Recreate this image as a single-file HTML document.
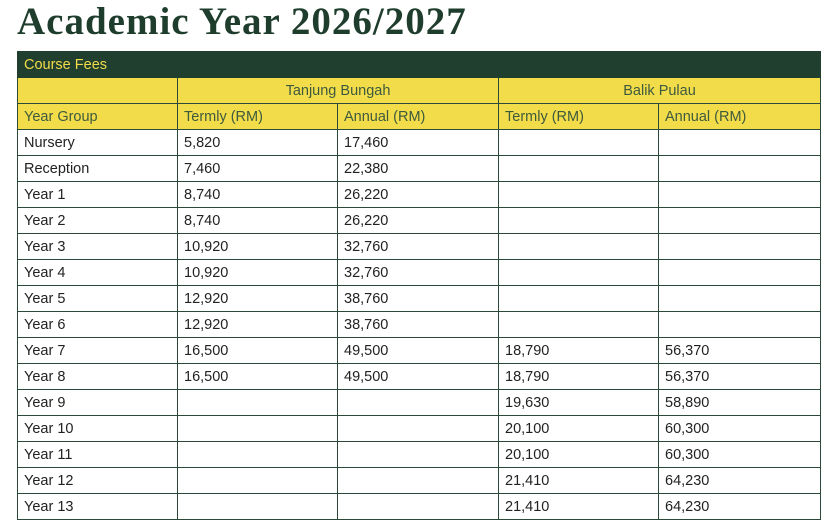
<!DOCTYPE html>
<html><head><style>
body{margin:0;background:#fff;width:835px;height:528px;overflow:hidden;font-family:"Liberation Sans",sans-serif;}
h1{position:absolute;left:17px;top:0;margin:0;font-family:"Liberation Serif",serif;font-weight:bold;font-size:39px;line-height:44px;color:#1f3d2c;letter-spacing:1px}
table{position:absolute;left:17px;top:51px;border-collapse:collapse;width:803px;table-layout:fixed}
td{border:1px solid #2c4a3a;height:25px;padding:0 0 0 6px;font-size:14.5px;color:#222;white-space:nowrap}
tr.g td{background:#213f2e;color:#f2dc4a;height:25px;border-color:#213f2e}
tr.y td{background:#f2dc4a;color:#3d5a3d}
.c{text-align:center;padding:0}
</style></head><body>
<h1>Academic Year 2026/2027</h1>
<table>
<colgroup><col style="width:160px"><col style="width:160px"><col style="width:161px"><col style="width:160px"><col style="width:162px"></colgroup>
<tr class="g"><td colspan="5">Course Fees</td></tr>
<tr class="y"><td></td><td colspan="2" class="c">Tanjung Bungah</td><td colspan="2" class="c">Balik Pulau</td></tr>
<tr class="y"><td>Year Group</td><td>Termly (RM)</td><td>Annual (RM)</td><td>Termly (RM)</td><td>Annual (RM)</td></tr>
<tr><td>Nursery</td><td>5,820</td><td>17,460</td><td></td><td></td></tr>
<tr><td>Reception</td><td>7,460</td><td>22,380</td><td></td><td></td></tr>
<tr><td>Year 1</td><td>8,740</td><td>26,220</td><td></td><td></td></tr>
<tr><td>Year 2</td><td>8,740</td><td>26,220</td><td></td><td></td></tr>
<tr><td>Year 3</td><td>10,920</td><td>32,760</td><td></td><td></td></tr>
<tr><td>Year 4</td><td>10,920</td><td>32,760</td><td></td><td></td></tr>
<tr><td>Year 5</td><td>12,920</td><td>38,760</td><td></td><td></td></tr>
<tr><td>Year 6</td><td>12,920</td><td>38,760</td><td></td><td></td></tr>
<tr><td>Year 7</td><td>16,500</td><td>49,500</td><td>18,790</td><td>56,370</td></tr>
<tr><td>Year 8</td><td>16,500</td><td>49,500</td><td>18,790</td><td>56,370</td></tr>
<tr><td>Year 9</td><td></td><td></td><td>19,630</td><td>58,890</td></tr>
<tr><td>Year 10</td><td></td><td></td><td>20,100</td><td>60,300</td></tr>
<tr><td>Year 11</td><td></td><td></td><td>20,100</td><td>60,300</td></tr>
<tr><td>Year 12</td><td></td><td></td><td>21,410</td><td>64,230</td></tr>
<tr><td>Year 13</td><td></td><td></td><td>21,410</td><td>64,230</td></tr>
</table>
</body></html>
